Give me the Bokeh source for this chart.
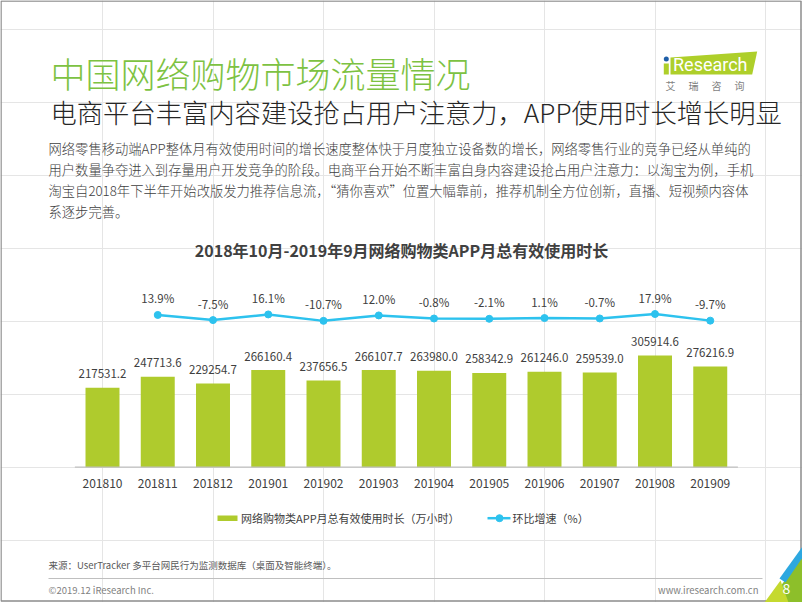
from bokeh.plotting import figure
from bokeh.models import Range1d, ColumnDataSource
from bokeh.core.properties import value
from bokeh.embed import file_html
from bokeh.resources import INLINE

# ---------------- data ----------------
months = ["201810", "201811", "201812", "201901", "201902", "201903",
          "201904", "201905", "201906", "201907", "201908", "201909"]
usage = [217531.2, 247713.6, 229254.7, 266160.4, 237656.5, 266107.7,
         263980.0, 258342.9, 261246.0, 259539.0, 305914.6, 276216.9]
growth_months = months[1:]
growth = [13.9, -7.5, 16.1, -10.7, 12.0, -0.8, -2.1, 1.1, -0.7, 17.9, -9.7]

title = "中国网络购物市场流量情况"
subtitle = "电商平台丰富内容建设抢占用户注意力，APP使用时长增长明显"
body = [
    "网络零售移动端APP整体月有效使用时间的增长速度整体快于月度独立设备数的增长，网络零售行业的竞争已经从单纯的",
    "用户数量争夺进入到存量用户开发竞争的阶段。电商平台开始不断丰富自身内容建设抢占用户注意力：以淘宝为例，手机",
    "淘宝自2018年下半年开始改版发力推荐信息流，“猜你喜欢”位置大幅靠前，推荐机制全方位创新，直播、短视频内容体",
    "系逐步完善。",
]
chart_title = "2018年10月-2019年9月网络购物类APP月总有效使用时长"
legend_bar = "网络购物类APP月总有效使用时长（万小时）"
legend_line = "环比增速（%）"
source_note = "来源：UserTracker 多平台网民行为监测数据库（桌面及智能终端）。"
copyright_note = "©2019.12 iResearch Inc."
site = "www.iresearch.com.cn"
page_no = "8"

# ---------------- style ----------------
W, H = 802, 602
FONT = "Noto Sans CJK SC"
LIGHT = "'Noto Sans CJK SC Light', 'Noto Sans CJK SC DemiLight', 'Noto Sans CJK SC'"
GREEN_T = "#7DC242"
BAR = "#AFCB2D"
BLUE = "#2DC2EE"
DARK = "#404040"
LOGO = "#AECF2A"

# category spacing 55.25 px, first category at x 102; baseline 135.3 px above bottom
PX_PER_CAT = 55.25
x0 = -102 / PX_PER_CAT
x1 = x0 + W / PX_PER_CAT
UNITS_PER_PX = 2739.7
BASE = H - 466.7
y0 = -BASE * UNITS_PER_PX
y1 = (H - BASE) * UNITS_PER_PX
PCT_PX = 0.24
PBASE = H - 317.8
p0 = -PBASE / PCT_PX
p1 = (H - PBASE) / PCT_PX

p = figure(width=W, height=H, output_backend="svg", toolbar_location=None,
           x_axis_location=None, y_axis_location=None, min_border=0,
           title=None, x_range=Range1d(x0, x1), y_range=Range1d(y0, y1))
p.outline_line_color = None
p.background_fill_color = "white"
p.border_fill_color = "white"
p.extra_x_ranges = {"px": Range1d(0, W)}
p.extra_y_ranges = {"py": Range1d(H, 0), "pct": Range1d(p0, p1)}


def txt(x, y, s, size, color, align="left", bold=False, font=FONT):
    p.text(x=[x], y=[y], text=[s], x_range_name="px", y_range_name="py",
           text_font=value(font), text_font_size=f"{size}px", text_color=color,
           text_align=align, text_baseline="middle",
           text_font_style="bold" if bold else "normal")


# page frame
p.patch(x=[0.5, W - 1.5, W - 1.5, 0.5], y=[0.5, 0.5, H - 1.5, H - 1.5],
        x_range_name="px", y_range_name="py", fill_color=None,
        line_color="#8C8C8C", line_width=1.5)

# ---------------- header ----------------
txt(50, 72, title, 35, GREEN_T, font=LIGHT)
txt(50, 111, subtitle, 26.3, "#262626", font=LIGHT)
for i, line in enumerate(body):
    txt(48, 148 + 21 * i, line, 13.3, DARK, font=LIGHT)

# logo
p.patch(x=[670, 756.7, 751.7, 670], y=[57, 51, 74, 74], x_range_name="px",
        y_range_name="py", fill_color=LOGO, line_color=None)
p.quad(left=[663.3], right=[668.3], top=[63], bottom=[74], x_range_name="px",
       y_range_name="py", fill_color=LOGO, line_color=None)
p.scatter(x=[665.8], y=[58.5], size=5, x_range_name="px", y_range_name="py",
          fill_color="#1F5FA8", line_color=None)
txt(672.5, 63.5, "Research", 18, "white", font="Roboto")
p.text(x=[670, 693, 716, 739], y=[85] * 4, text=["艾", "瑞", "咨", "询"],
       x_range_name="px", y_range_name="py", text_font=value(FONT),
       text_font_size="10px", text_color="#7F7F7F", text_align="center",
       text_baseline="middle")

# ---------------- chart ----------------
txt(401, 249.5, chart_title, 16, DARK, align="center", bold=True)

idx = list(range(len(months)))
bars = ColumnDataSource(dict(
    x=idx, usage=usage, zero=[0] * len(months), month=months,
    label=[f"{v:.1f}" for v in usage]))
p.vbar(x="x", top="usage", bottom=0, width=0.615, source=bars,
       fill_color=BAR, line_color=None)
p.segment(x0=[-0.5], y0=[0], x1=[len(months) - 0.5], y1=[0],
          line_color="#BFBFBF", line_width=1.2)
p.text(x="x", y="usage", text="label", source=bars, y_offset=-14,
       text_font=value(FONT), text_font_size="11.5px", text_color=DARK,
       text_align="center", text_baseline="middle")
p.text(x="x", y="zero", text="month", source=bars, y_offset=16.6,
       text_font=value(FONT), text_font_size="12px", text_color=DARK,
       text_align="center", text_baseline="middle")

gsrc = ColumnDataSource(dict(
    x=[months.index(m) for m in growth_months], g=growth,
    label=[f"{v:.1f}%" for v in growth]))
p.line(x="x", y="g", source=gsrc, y_range_name="pct", line_color=BLUE,
       line_width=2.5)
p.scatter(x="x", y="g", source=gsrc, y_range_name="pct", size=7,
          fill_color=BLUE, line_color=BLUE)
p.text(x="x", y="g", text="label", source=gsrc, y_range_name="pct",
       y_offset=-16.5, text_font=value(FONT), text_font_size="11.5px",
       text_color=DARK, text_align="center", text_baseline="middle")

# legend
p.quad(left=[217], right=[237], top=[515], bottom=[520.5], x_range_name="px",
       y_range_name="py", fill_color=BAR, line_color=None)
txt(240.5, 517.7, legend_bar, 11, DARK)
p.segment(x0=[487], y0=[517.7], x1=[510], y1=[517.7], x_range_name="px",
          y_range_name="py", line_color=BLUE, line_width=2.5)
p.scatter(x=[499], y=[517.7], size=7, x_range_name="px", y_range_name="py",
          fill_color=BLUE, line_color=BLUE)
txt(512, 517.7, legend_line, 11, DARK)

# ---------------- footer ----------------
txt(48, 564, source_note, 9.5, "#595959")
p.segment(x0=[48], y0=[578], x1=[762], y1=[578], x_range_name="px",
          y_range_name="py", line_color="#BFBFBF", line_width=1)
txt(48, 589.5, copyright_note, 9.5, "#7F7F7F")
txt(758, 589.5, site, 9.5, "#7F7F7F", align="right")

# corner decoration
p.patch(x=[768, 802, 802], y=[602, 602, 556], x_range_name="px",
        y_range_name="py", fill_color="#8DBF2A", line_color=None)
p.patch(x=[764, 780, 788], y=[602, 580, 602], x_range_name="px",
        y_range_name="py", fill_color="#C5D92F", line_color=None)
p.patch(x=[779, 802, 802, 785], y=[578, 546, 557, 582], x_range_name="px",
        y_range_name="py", fill_color="#2DA8E0", line_color=None)
txt(786, 588, page_no, 14, "white", align="center")

open("out.html", "w").write(file_html(p, INLINE))
